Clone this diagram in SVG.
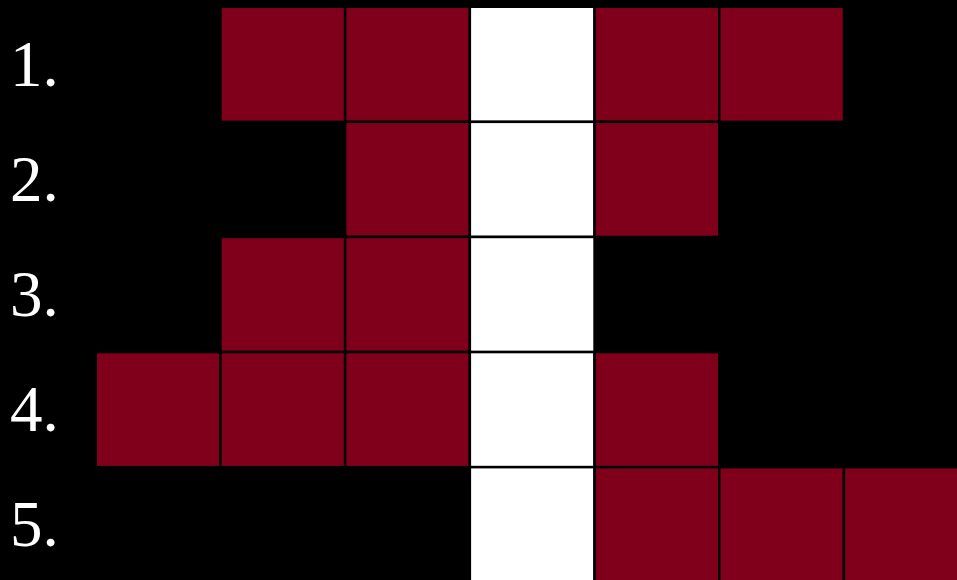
<svg xmlns="http://www.w3.org/2000/svg" width="957" height="580" viewBox="0 0 957 580">
<style>
.r{fill:#80001c;stroke:#000;stroke-width:2.5}
.w{fill:#fff;stroke:#000;stroke-width:2.5}
.t{font-family:"Liberation Serif","Times New Roman",serif;font-size:65px;fill:#fff}
</style>
<rect x="0" y="0" width="957" height="580" fill="#000"/>
<g id="row1">
<text class="t" x="10" y="86">1.</text>
<rect class="r" x="220.45" y="6.75" width="124.7" height="115.1"/>
<rect class="r" x="345.15" y="6.75" width="124.7" height="115.1"/>
<rect class="w" x="469.85" y="6.75" width="124.7" height="115.1"/>
<rect class="r" x="594.55" y="6.75" width="124.7" height="115.1"/>
<rect class="r" x="719.25" y="6.75" width="124.7" height="115.1"/>
</g>
<g id="row2">
<text class="t" x="10" y="201">2.</text>
<rect class="r" x="345.15" y="121.85" width="124.7" height="115.1"/>
<rect class="w" x="469.85" y="121.85" width="124.7" height="115.1"/>
<rect class="r" x="594.55" y="121.85" width="124.7" height="115.1"/>
</g>
<g id="row3">
<text class="t" x="10" y="316">3.</text>
<rect class="r" x="220.45" y="236.95" width="124.7" height="115.1"/>
<rect class="r" x="345.15" y="236.95" width="124.7" height="115.1"/>
<rect class="w" x="469.85" y="236.95" width="124.7" height="115.1"/>
</g>
<g id="row4">
<text class="t" x="10" y="431">4.</text>
<rect class="r" x="95.75" y="352.05" width="124.7" height="115.1"/>
<rect class="r" x="220.45" y="352.05" width="124.7" height="115.1"/>
<rect class="r" x="345.15" y="352.05" width="124.7" height="115.1"/>
<rect class="w" x="469.85" y="352.05" width="124.7" height="115.1"/>
<rect class="r" x="594.55" y="352.05" width="124.7" height="115.1"/>
</g>
<g id="row5">
<text class="t" x="10" y="546">5.</text>
<rect class="w" x="469.85" y="467.15" width="124.7" height="115.1"/>
<rect class="r" x="594.55" y="467.15" width="124.7" height="115.1"/>
<rect class="r" x="719.25" y="467.15" width="124.7" height="115.1"/>
<rect class="r" x="843.95" y="467.15" width="124.7" height="115.1"/>
</g>
</svg>
